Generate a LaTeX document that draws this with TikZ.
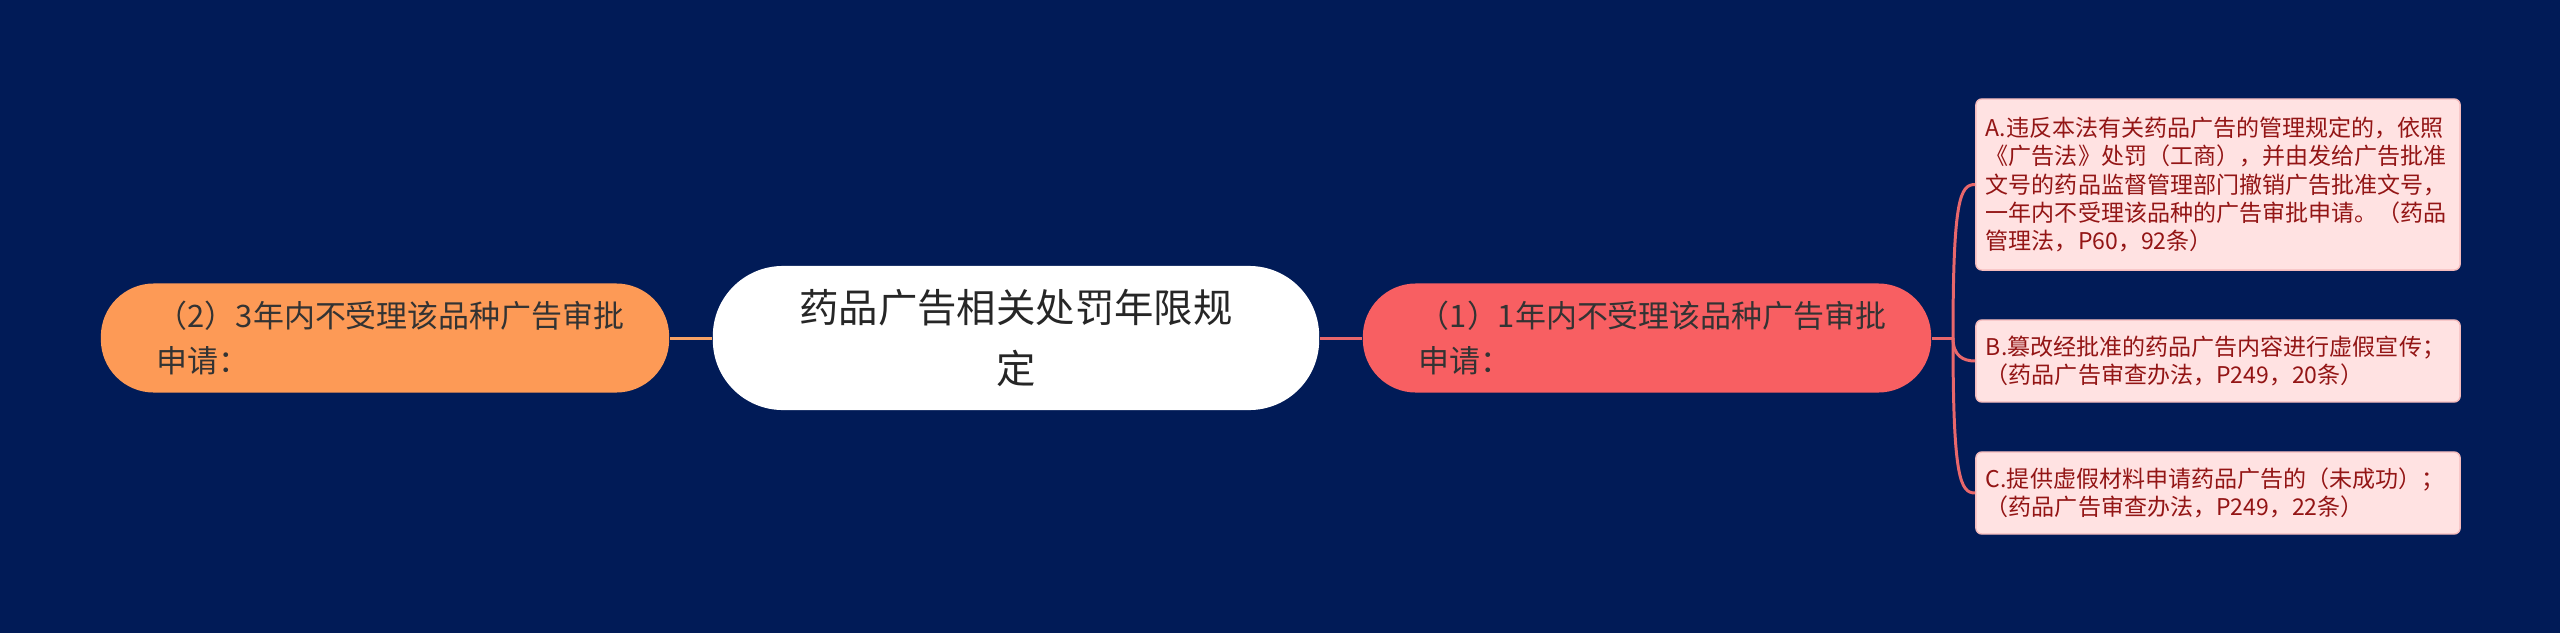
\documentclass[tikz,border=0pt]{standalone}
\usepackage{fontspec}
\setmainfont{Noto Sans CJK SC}
\definecolor{fondo}{HTML}{011B57}
\definecolor{rojo}{HTML}{F85F62}
\definecolor{naranja}{HTML}{FD9A56}
\definecolor{rosa}{HTML}{FFE2E2}
\definecolor{textorojo}{HTML}{931515}
\definecolor{lineaR}{HTML}{E8676B}
\definecolor{lineaN}{HTML}{F7A265}
\begin{document}
\begin{tikzpicture}[x=0.01cm, y=-0.01cm,
    raiz/.style={fill=white, rounded corners=0.7cm, minimum width=6.06cm, minimum height=1.44cm,
      align=center, text=black!85, font=\fontsize{11.2pt}{17.6pt}\selectfont},
    rama/.style={rounded corners=0.53cm, minimum height=1.09cm, text width=4.56cm, inner xsep=0.56cm,
      align=left, text=black!80, font=\fontsize{8.8pt}{12.8pt}\selectfont},
    hoja/.style={fill=rosa, draw=lineaR!45, line width=0.4pt, rounded corners=0.06cm, text width=4.64cm,
      inner xsep=0.1cm, align=left, text=textorojo, font=\fontsize{6.55pt}{8.05pt}\selectfont},
    conector/.style={line width=0.85pt}]

    % Fondo
    \fill[fondo] (0,0) rectangle (2560,633);

    % Tema central
    \node[raiz] (raiz) at (1016,338) {药品广告相关处罚年限规\\定};

    % Ramas principales
    \node[rama, fill=rojo] (uno) at (1647,338) {（1）1年内不受理该品种广告审批\\申请：};
    \node[rama, fill=naranja] (dos) at (385,338) {（2）3年内不受理该品种广告审批\\申请：};

    % Hojas de la rama (1)
    \node[hoja, minimum height=1.71cm] (a) at (2218,184.5) {A.违反本法有关药品广告的管理规定的，依照\\《广告法》处罚（工商），并由发给广告批准\\文号的药品监督管理部门撤销广告批准文号，\\一年内不受理该品种的广告审批申请。（药品\\管理法，P60，92条）};
    \node[hoja, minimum height=0.82cm] (b) at (2218,361) {B.篡改经批准的药品广告内容进行虚假宣传；\\（药品广告审查办法，P249，20条）};
    \node[hoja, minimum height=0.82cm] (c) at (2218,493) {C.提供虚假材料申请药品广告的（未成功）；\\（药品广告审查办法，P249，22条）};

    % Conectores
    \coordinate (eje) at (1953,338);
    \draw[conector, lineaN] (raiz.west) -- (dos.east);
    \draw[conector, lineaR] (raiz.east) -- (uno.west);
    \draw[conector, lineaR] (uno.east) -- (eje);
    \draw[conector, lineaR] (eje) .. controls +(0,-140) and +(-15,0) .. (a.west);
    \draw[conector, lineaR] (eje) .. controls +(0,18) and +(-12,0) .. (b.west);
    \draw[conector, lineaR] (eje) .. controls +(0,140) and +(-15,0) .. (c.west);
  \end{tikzpicture}
\end{document}
